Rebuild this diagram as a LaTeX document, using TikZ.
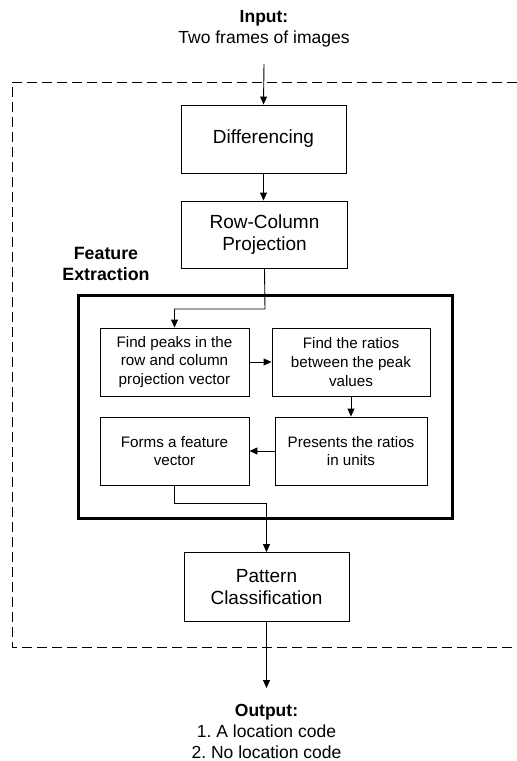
\documentclass[tikz,border=0pt]{standalone}
\usepackage{fontspec}
\setmainfont{Liberation Sans}
\usetikzlibrary{arrows.meta}
\begin{document}
\begin{tikzpicture}[x=1pt,y=-1pt,
  box/.style={draw,line width=0.9pt,rectangle,inner sep=2pt,align=center,font=\fontsize{19}{22}\selectfont},
  ibox/.style={draw,line width=0.9pt,rectangle,inner sep=2pt,align=center,font=\fontsize{15.2}{18.7}\selectfont,minimum height=68pt},
  arr/.style={line width=0.9pt,-{Triangle[length=8pt,width=7pt]}},
  io/.style={align=center,font=\fontsize{17.5}{21}\selectfont}]
\useasboundingbox (0,0) rectangle (517,761);
% dashed outer frame
\draw[line width=0.9pt,dash pattern=on 10pt off 5pt] (517,82) -- (12,82) -- (12,647) -- (517,647);
% input
\node[io] (in) at (264,29) {\textbf{Input:}\\Two frames of images};
\coordinate (inend) at (264,64);
% main boxes
\node[box,minimum width=165pt,minimum height=68pt] (diff) at (263.5,139) {Differencing};
\node[box,minimum width=166pt,minimum height=67pt] (rc) at (264.5,234.5) {Row-Column\\Projection};
% feature extraction
\node[font=\bfseries\fontsize{17.8}{21.7}\selectfont,align=center] (fel) at (106,264) {Feature\\Extraction};
\node[draw,line width=3pt,minimum width=374pt,minimum height=223pt,inner sep=0pt] (fe) at (265,406.5) {};
\node[ibox,minimum width=149pt] (b1) at (174.5,362) {Find peaks in the\\row and column\\projection vector};
\node[ibox,minimum width=158pt] (b2) at (351,362) {Find the ratios\\between the peak\\values};
\node[ibox,minimum width=152pt] (b3) at (351,451) {Presents the ratios\\in units};
\node[ibox,minimum width=149pt] (b4) at (174.5,451) {Forms a feature\\vector};
\node[box,minimum width=165pt,minimum height=69pt] (pc) at (266.5,587) {Pattern\\Classification};
% output
\node[io] (out) at (266.5,731) {\textbf{Output:}\\1.\ A location code\\2.\ No location code};
\coordinate (outend) at (266.5,688);
% junctions
\coordinate (j1) at (265,309);
\coordinate (j2) at (266.5,503);
% connectors
\draw[arr] (inend) -- (diff.north);
\draw[arr] (diff.south) -- (diff.south |- rc.north);
\draw[arr] (rc.south) -- (j1) -| (b1.north);
\draw[arr] (b1.east) -- (b2.west);
\draw[arr] (b2.south) -- (b2.south |- b3.north);
\draw[arr] (b3.west) -- (b4.east);
\draw[arr] (b4.south) |- (j2) -- (pc.north);
\draw[arr] (pc.south) -- (outend);
\end{tikzpicture}
\end{document}
